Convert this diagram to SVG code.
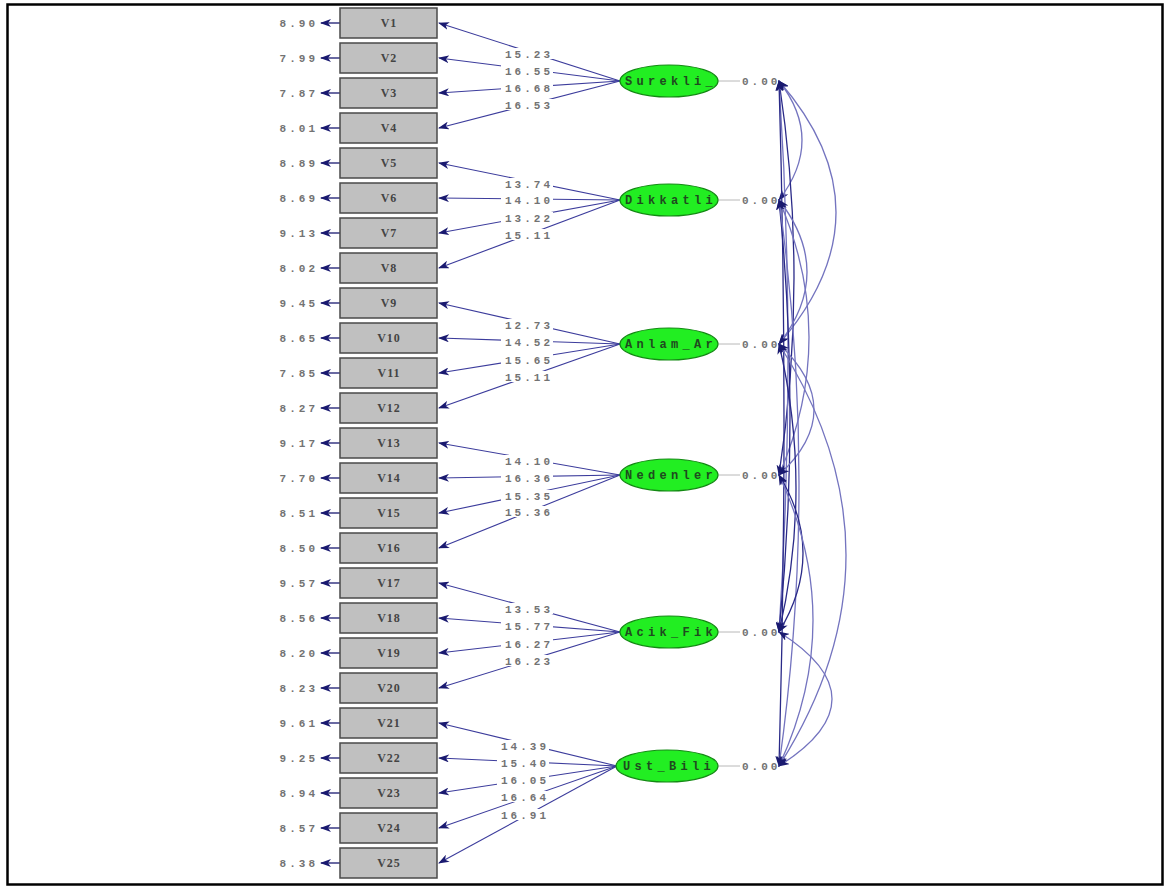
<svg xmlns="http://www.w3.org/2000/svg" width="1166" height="888" viewBox="0 0 1166 888">
<defs>
<marker id="ah" markerUnits="userSpaceOnUse" markerWidth="11" markerHeight="8" refX="10" refY="4" orient="auto-start-reverse" viewBox="0 0 11 8">
<path d="M0,0 L11,4 L0,8 L3,4 z" fill="#1a1a70"/>
</marker>
<style>
.box{fill:#c0c0c0;stroke:#4a4a4a;stroke-width:1.5}
.bl{font-family:"Liberation Serif",serif;font-size:12px;font-weight:bold;fill:#444;text-anchor:middle;letter-spacing:1px}
.num{font-family:"Liberation Mono",monospace;font-size:11px;font-weight:bold;fill:#737373;letter-spacing:3px}
.err{text-anchor:end}
.lab{text-anchor:middle}
.ld{stroke:#3c3c9c;stroke-width:1.1;fill:none;marker-end:url(#ah)}
.ea{stroke:#1a1a70;stroke-width:1.3;fill:none;marker-end:url(#ah)}
.bg{fill:#fff}
.lat{fill:#22ee22;stroke:#138a13;stroke-width:1.2}
.lt{font-family:"Liberation Mono",monospace;font-size:12px;font-weight:bold;fill:#1f4a1f;text-anchor:middle;letter-spacing:4.3px}
.dl{stroke:#b8b8b8;stroke-width:1}
.cv{stroke:#7474bf;stroke-width:1.3;fill:none;marker-start:url(#ah);marker-end:url(#ah)}
.cd{stroke:#2a2a88}
</style>
</defs>
<rect x="7.5" y="4.5" width="1155" height="880" fill="#fff" stroke="#000" stroke-width="2.5"/>

<g id="connectors">
<g id="errors">
<line class="ea" x1="340" y1="23" x2="321" y2="23"/><text class="num err" x="318" y="27">8.90</text>
<line class="ea" x1="340" y1="58" x2="321" y2="58"/><text class="num err" x="318" y="62">7.99</text>
<line class="ea" x1="340" y1="93" x2="321" y2="93"/><text class="num err" x="318" y="97">7.87</text>
<line class="ea" x1="340" y1="128" x2="321" y2="128"/><text class="num err" x="318" y="132">8.01</text>
<line class="ea" x1="340" y1="163" x2="321" y2="163"/><text class="num err" x="318" y="167">8.89</text>
<line class="ea" x1="340" y1="198" x2="321" y2="198"/><text class="num err" x="318" y="202">8.69</text>
<line class="ea" x1="340" y1="233" x2="321" y2="233"/><text class="num err" x="318" y="237">9.13</text>
<line class="ea" x1="340" y1="268" x2="321" y2="268"/><text class="num err" x="318" y="272">8.02</text>
<line class="ea" x1="340" y1="303" x2="321" y2="303"/><text class="num err" x="318" y="307">9.45</text>
<line class="ea" x1="340" y1="338" x2="321" y2="338"/><text class="num err" x="318" y="342">8.65</text>
<line class="ea" x1="340" y1="373" x2="321" y2="373"/><text class="num err" x="318" y="377">7.85</text>
<line class="ea" x1="340" y1="408" x2="321" y2="408"/><text class="num err" x="318" y="412">8.27</text>
<line class="ea" x1="340" y1="443" x2="321" y2="443"/><text class="num err" x="318" y="447">9.17</text>
<line class="ea" x1="340" y1="478" x2="321" y2="478"/><text class="num err" x="318" y="482">7.70</text>
<line class="ea" x1="340" y1="513" x2="321" y2="513"/><text class="num err" x="318" y="517">8.51</text>
<line class="ea" x1="340" y1="548" x2="321" y2="548"/><text class="num err" x="318" y="552">8.50</text>
<line class="ea" x1="340" y1="583" x2="321" y2="583"/><text class="num err" x="318" y="587">9.57</text>
<line class="ea" x1="340" y1="618" x2="321" y2="618"/><text class="num err" x="318" y="622">8.56</text>
<line class="ea" x1="340" y1="653" x2="321" y2="653"/><text class="num err" x="318" y="657">8.20</text>
<line class="ea" x1="340" y1="688" x2="321" y2="688"/><text class="num err" x="318" y="692">8.23</text>
<line class="ea" x1="340" y1="723" x2="321" y2="723"/><text class="num err" x="318" y="727">9.61</text>
<line class="ea" x1="340" y1="758" x2="321" y2="758"/><text class="num err" x="318" y="762">9.25</text>
<line class="ea" x1="340" y1="793" x2="321" y2="793"/><text class="num err" x="318" y="797">8.94</text>
<line class="ea" x1="340" y1="828" x2="321" y2="828"/><text class="num err" x="318" y="832">8.57</text>
<line class="ea" x1="340" y1="863" x2="321" y2="863"/><text class="num err" x="318" y="867">8.38</text>
</g>
<g id="loadings">
<line class="ld" x1="620" y1="81" x2="439" y2="23"/>
<line class="ld" x1="620" y1="81" x2="439" y2="58"/>
<line class="ld" x1="620" y1="81" x2="439" y2="93"/>
<line class="ld" x1="620" y1="81" x2="439" y2="128"/>
<line class="ld" x1="620" y1="200" x2="439" y2="163"/>
<line class="ld" x1="620" y1="200" x2="439" y2="198"/>
<line class="ld" x1="620" y1="200" x2="439" y2="233"/>
<line class="ld" x1="620" y1="200" x2="439" y2="268"/>
<line class="ld" x1="620" y1="344" x2="439" y2="303"/>
<line class="ld" x1="620" y1="344" x2="439" y2="338"/>
<line class="ld" x1="620" y1="344" x2="439" y2="373"/>
<line class="ld" x1="620" y1="344" x2="439" y2="408"/>
<line class="ld" x1="620" y1="475" x2="439" y2="443"/>
<line class="ld" x1="620" y1="475" x2="439" y2="478"/>
<line class="ld" x1="620" y1="475" x2="439" y2="513"/>
<line class="ld" x1="620" y1="475" x2="439" y2="548"/>
<line class="ld" x1="620" y1="632" x2="439" y2="583"/>
<line class="ld" x1="620" y1="632" x2="439" y2="618"/>
<line class="ld" x1="620" y1="632" x2="439" y2="653"/>
<line class="ld" x1="620" y1="632" x2="439" y2="688"/>
<line class="ld" x1="617" y1="766" x2="439" y2="723"/>
<line class="ld" x1="617" y1="766" x2="439" y2="758"/>
<line class="ld" x1="617" y1="766" x2="439" y2="793"/>
<line class="ld" x1="617" y1="766" x2="439" y2="828"/>
<line class="ld" x1="617" y1="766" x2="439" y2="863"/>
</g>
<g id="loading-labels">
<rect class="bg" x="501" y="48" width="52" height="11"/><text class="num lab" x="529" y="58">15.23</text>
<rect class="bg" x="501" y="65" width="52" height="11"/><text class="num lab" x="529" y="75">16.55</text>
<rect class="bg" x="501" y="82" width="52" height="11"/><text class="num lab" x="529" y="92">16.68</text>
<rect class="bg" x="501" y="99" width="52" height="11"/><text class="num lab" x="529" y="109">16.53</text>
<rect class="bg" x="501" y="178" width="52" height="11"/><text class="num lab" x="529" y="188">13.74</text>
<rect class="bg" x="501" y="194" width="52" height="11"/><text class="num lab" x="529" y="204">14.10</text>
<rect class="bg" x="501" y="212" width="52" height="11"/><text class="num lab" x="529" y="222">13.22</text>
<rect class="bg" x="501" y="229" width="52" height="11"/><text class="num lab" x="529" y="239">15.11</text>
<rect class="bg" x="501" y="319" width="52" height="11"/><text class="num lab" x="529" y="329">12.73</text>
<rect class="bg" x="501" y="336" width="52" height="11"/><text class="num lab" x="529" y="346">14.52</text>
<rect class="bg" x="501" y="354" width="52" height="11"/><text class="num lab" x="529" y="364">15.65</text>
<rect class="bg" x="501" y="371" width="52" height="11"/><text class="num lab" x="529" y="381">15.11</text>
<rect class="bg" x="501" y="455" width="52" height="11"/><text class="num lab" x="529" y="465">14.10</text>
<rect class="bg" x="501" y="472" width="52" height="11"/><text class="num lab" x="529" y="482">16.36</text>
<rect class="bg" x="501" y="490" width="52" height="11"/><text class="num lab" x="529" y="500">15.35</text>
<rect class="bg" x="501" y="506" width="52" height="11"/><text class="num lab" x="529" y="516">15.36</text>
<rect class="bg" x="501" y="603" width="52" height="11"/><text class="num lab" x="529" y="613">13.53</text>
<rect class="bg" x="501" y="620" width="52" height="11"/><text class="num lab" x="529" y="630">15.77</text>
<rect class="bg" x="501" y="638" width="52" height="11"/><text class="num lab" x="529" y="648">16.27</text>
<rect class="bg" x="501" y="655" width="52" height="11"/><text class="num lab" x="529" y="665">16.23</text>
<rect class="bg" x="497" y="740" width="52" height="11"/><text class="num lab" x="525" y="750">14.39</text>
<rect class="bg" x="497" y="757" width="52" height="11"/><text class="num lab" x="525" y="767">15.40</text>
<rect class="bg" x="497" y="774" width="52" height="11"/><text class="num lab" x="525" y="784">16.05</text>
<rect class="bg" x="497" y="791" width="52" height="11"/><text class="num lab" x="525" y="801">16.64</text>
<rect class="bg" x="497" y="809" width="52" height="11"/><text class="num lab" x="525" y="819">16.91</text>
</g>
<g id="latent-errors">
<line class="dl" x1="718" y1="81" x2="740" y2="81"/><text class="num" x="742" y="85">0.00</text>
<line class="dl" x1="718" y1="200" x2="740" y2="200"/><text class="num" x="742" y="204">0.00</text>
<line class="dl" x1="718" y1="344" x2="740" y2="344"/><text class="num" x="742" y="348">0.00</text>
<line class="dl" x1="718" y1="475" x2="740" y2="475"/><text class="num" x="742" y="479">0.00</text>
<line class="dl" x1="718" y1="632" x2="740" y2="632"/><text class="num" x="742" y="636">0.00</text>
<line class="dl" x1="718" y1="766" x2="740" y2="766"/><text class="num" x="742" y="770">0.00</text>
</g>
<g id="covariances">
<path class="cv" d="M779,81 Q825,140 779,200"/>
<path class="cv" d="M779,81 Q893,212 779,344"/>
<path class="cv cd" d="M779,81 Q809,278 779,475"/>
<path class="cv" d="M779,81 Q797,356 779,632"/>
<path class="cv cd" d="M779,81 Q789,423 779,766"/>
<path class="cv" d="M779,200 Q835,272 779,344"/>
<path class="cv" d="M779,200 Q839,337 779,475"/>
<path class="cv cd" d="M779,200 Q801,416 779,632"/>
<path class="cv" d="M779,200 Q819,483 779,766"/>
<path class="cv" d="M779,344 Q849,410 779,475"/>
<path class="cv cd" d="M779,344 Q813,488 779,632"/>
<path class="cv" d="M779,344 Q913,555 779,766"/>
<path class="cv cd" d="M779,475 Q827,553 779,632"/>
<path class="cv" d="M779,475 Q847,620 779,766"/>
<path class="cv" d="M779,632 Q885,699 779,766"/>
</g>
</g>

<g id="V1"><rect class="box" x="340" y="8" width="97" height="30"/><text class="bl" x="389" y="27">V1</text></g>
<g id="V2"><rect class="box" x="340" y="43" width="97" height="30"/><text class="bl" x="389" y="62">V2</text></g>
<g id="V3"><rect class="box" x="340" y="78" width="97" height="30"/><text class="bl" x="389" y="97">V3</text></g>
<g id="V4"><rect class="box" x="340" y="113" width="97" height="30"/><text class="bl" x="389" y="132">V4</text></g>
<g id="V5"><rect class="box" x="340" y="148" width="97" height="30"/><text class="bl" x="389" y="167">V5</text></g>
<g id="V6"><rect class="box" x="340" y="183" width="97" height="30"/><text class="bl" x="389" y="202">V6</text></g>
<g id="V7"><rect class="box" x="340" y="218" width="97" height="30"/><text class="bl" x="389" y="237">V7</text></g>
<g id="V8"><rect class="box" x="340" y="253" width="97" height="30"/><text class="bl" x="389" y="272">V8</text></g>
<g id="V9"><rect class="box" x="340" y="288" width="97" height="30"/><text class="bl" x="389" y="307">V9</text></g>
<g id="V10"><rect class="box" x="340" y="323" width="97" height="30"/><text class="bl" x="389" y="342">V10</text></g>
<g id="V11"><rect class="box" x="340" y="358" width="97" height="30"/><text class="bl" x="389" y="377">V11</text></g>
<g id="V12"><rect class="box" x="340" y="393" width="97" height="30"/><text class="bl" x="389" y="412">V12</text></g>
<g id="V13"><rect class="box" x="340" y="428" width="97" height="30"/><text class="bl" x="389" y="447">V13</text></g>
<g id="V14"><rect class="box" x="340" y="463" width="97" height="30"/><text class="bl" x="389" y="482">V14</text></g>
<g id="V15"><rect class="box" x="340" y="498" width="97" height="30"/><text class="bl" x="389" y="517">V15</text></g>
<g id="V16"><rect class="box" x="340" y="533" width="97" height="30"/><text class="bl" x="389" y="552">V16</text></g>
<g id="V17"><rect class="box" x="340" y="568" width="97" height="30"/><text class="bl" x="389" y="587">V17</text></g>
<g id="V18"><rect class="box" x="340" y="603" width="97" height="30"/><text class="bl" x="389" y="622">V18</text></g>
<g id="V19"><rect class="box" x="340" y="638" width="97" height="30"/><text class="bl" x="389" y="657">V19</text></g>
<g id="V20"><rect class="box" x="340" y="673" width="97" height="30"/><text class="bl" x="389" y="692">V20</text></g>
<g id="V21"><rect class="box" x="340" y="708" width="97" height="30"/><text class="bl" x="389" y="727">V21</text></g>
<g id="V22"><rect class="box" x="340" y="743" width="97" height="30"/><text class="bl" x="389" y="762">V22</text></g>
<g id="V23"><rect class="box" x="340" y="778" width="97" height="30"/><text class="bl" x="389" y="797">V23</text></g>
<g id="V24"><rect class="box" x="340" y="813" width="97" height="30"/><text class="bl" x="389" y="832">V24</text></g>
<g id="V25"><rect class="box" x="340" y="848" width="97" height="30"/><text class="bl" x="389" y="867">V25</text></g>

<g id="Surekli"><ellipse class="lat" cx="669" cy="81" rx="49" ry="16"/><text class="lt" x="671" y="85">Surekli_</text></g>
<g id="Dikkatli"><ellipse class="lat" cx="669" cy="200" rx="49" ry="16"/><text class="lt" x="671" y="204">Dikkatli</text></g>
<g id="Anlam_Ar"><ellipse class="lat" cx="669" cy="344" rx="49" ry="16"/><text class="lt" x="671" y="348">Anlam_Ar</text></g>
<g id="Nedenler"><ellipse class="lat" cx="669" cy="475" rx="49" ry="16"/><text class="lt" x="671" y="479">Nedenler</text></g>
<g id="Acik_Fik"><ellipse class="lat" cx="669" cy="632" rx="49" ry="16"/><text class="lt" x="671" y="636">Acik_Fik</text></g>
<g id="Ust_Bili"><ellipse class="lat" cx="667" cy="766" rx="51" ry="16"/><text class="lt" x="669" y="770">Ust_Bili</text></g>
</svg>
